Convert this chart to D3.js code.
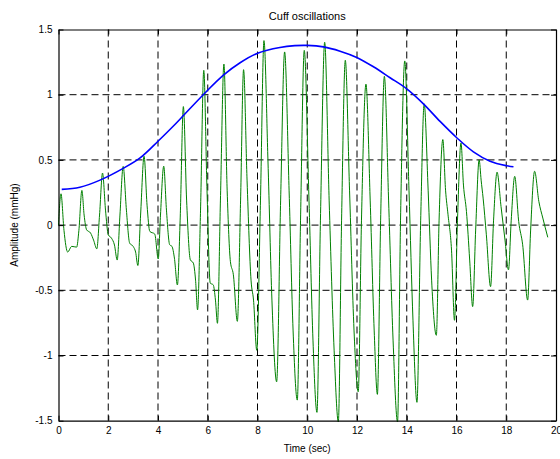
<!DOCTYPE html>
<html>
<head>
<meta charset="utf-8">
<script src="https://cdn.jsdelivr.net/npm/d3@7"></script>
<style>
  html, body { margin: 0; padding: 0; background: #fff; }
  svg { display: block; }
  text { font-family: "Liberation Sans", Arial, Helvetica, sans-serif; fill: #000; }
</style>
</head>
<body>
<svg id="chart" width="560" height="459"></svg>
<script>
// ---- data ----
const title = "Cuff oscillations";
const xLabel = "Time (sec)";
const yLabel = "Amplitude (mmHg)";
const xTicks = [0, 2, 4, 6, 8, 10, 12, 14, 16, 18, 20];
const yTicks = [-1.5, -1, -0.5, 0, 0.5, 1, 1.5];

// oscillation signal (green)
const oscTime = [
  0.00, 0.10, 0.22, 0.37, 0.53, 0.73, 0.82,
  0.94, 1.03, 1.13, 1.29, 1.41, 1.54, 1.65,
  1.77, 1.89, 2.00, 2.13, 2.25, 2.36, 2.47,
  2.60, 2.73, 2.86, 3.00, 3.10, 3.19, 3.30,
  3.44, 3.56, 3.67, 3.87, 4.01, 4.10,
  4.23, 4.34, 4.47, 4.56, 4.66, 4.78, 4.89,
  5.02, 5.15, 5.30, 5.42, 5.51, 5.59, 5.71,
  5.84, 5.97, 6.10, 6.22, 6.31, 6.39, 6.51,
  6.65, 6.78, 6.91, 7.03, 7.19, 7.32,
  7.44, 7.58, 7.74, 7.84, 7.97, 8.12,
  8.26, 8.42, 8.58, 8.77, 8.93,
  9.09, 9.27, 9.43, 9.60, 9.73,
  9.88, 10.07, 10.23, 10.39, 10.53,
  10.70, 10.88, 11.08, 11.25, 11.38,
  11.53, 11.70, 11.88, 12.05, 12.18,
  12.36, 12.53, 12.69, 12.82, 12.95,
  13.10, 13.27, 13.45, 13.63, 13.75,
  13.92, 14.09, 14.25, 14.41, 14.56,
  14.70, 14.86, 15.00, 15.19, 15.30,
  15.45, 15.56, 15.66, 15.80, 15.92, 16.04,
  16.18, 16.28, 16.40, 16.53, 16.65, 16.77,
  16.91, 16.99, 17.07, 17.20, 17.37, 17.49,
  17.63, 17.79, 17.95, 18.09, 18.20,
  18.34, 18.50, 18.66, 18.86, 18.98,
  19.14, 19.31, 19.47, 19.67
];
const oscAmp = [
  0.00, 0.24, -0.04, -0.207, -0.163, -0.169, -0.04,
  0.266, 0.077, -0.036, -0.061, -0.115, -0.182, 0.077,
  0.399, 0.115, -0.074, -0.10, -0.153, -0.268, 0.077,
  0.45, 0.115, -0.138, -0.163, -0.207, -0.31, 0.077,
  0.528, 0.153, -0.048, -0.069, -0.26, 0.077,
  0.452, 0.115, -0.151, -0.163, -0.253, -0.459, 0.038,
  0.909, 0.192, -0.266, -0.291, -0.422, -0.65, 0.115,
  1.187, 0.268, -0.445, -0.458, -0.575, -0.753, 0.192,
  1.235, 0.268, -0.278, -0.381, -0.738, 0.192,
  1.192, 0.345, -0.422, -0.575, -0.96, 0.192,
  1.415, 0.498, -0.575, -1.202, 0.192,
  1.328, 0.268, -0.805, -1.342, 0.038,
  1.34, 0.192, -0.882, -1.436, 0.038,
  1.402, 0.192, -0.959, -1.509, 0.038,
  1.264, 0.268, -0.805, -1.278, 0.038,
  1.081, 0.192, -0.805, -1.298, 0.038,
  1.141, 0.192, -0.882, -1.509, 0.038,
  1.259, 0.268, -0.729, -1.359, 0.038,
  0.93, 0.268, -0.422, -0.845, 0.038,
  0.656, 0.268, 0.079, -0.192, -0.73, 0.038,
  0.63, 0.307, 0.105, -0.268, -0.625, -0.038,
  0.50, 0.345, 0.207, -0.074, -0.472, 0.038,
  0.406, 0.143, -0.115, -0.343, 0.038,
  0.374, 0.028, -0.151, -0.575, -0.038,
  0.413, 0.182, 0.054, -0.094
];

// envelope (blue)
const envTime = [0.13, 0.86, 1.67, 2.60, 3.28, 4.01, 4.62, 5.02, 5.82, 6.63, 7.30, 8.03, 8.90,
                 9.50, 10.00, 10.65, 11.32, 11.99, 12.66, 13.33, 14.00, 14.67, 15.34, 16.01, 16.68, 17.35, 18.02, 18.29];
const envAmp  = [0.274, 0.290, 0.345, 0.435, 0.515, 0.645, 0.760, 0.840, 1.000, 1.150, 1.245, 1.320, 1.362,
                 1.376, 1.378, 1.367, 1.334, 1.286, 1.214, 1.130, 1.045, 0.930, 0.795, 0.670, 0.562, 0.490, 0.455, 0.447];

// ---- drawing ----
const svg = d3.select("#chart");
const pL = 58.5, pR = 556, pT = 29.5, pB = 420.7;

const x = d3.scaleLinear().domain([0, 20]).range([pL, pR]);
const y = d3.scaleLinear().domain([-1.5, 1.5]).range([pB, pT]);

// grid
const grid = svg.append("g");
grid.selectAll("line.gx").data(xTicks.slice(1, -1)).join("line")
  .attr("x1", d => x(d)).attr("x2", d => x(d))
  .attr("y1", pT).attr("y2", pB)
  .attr("stroke", "#000").attr("stroke-width", 1).attr("stroke-dasharray", "7,4");
grid.selectAll("line.gy").data(yTicks.slice(1, -1)).join("line")
  .attr("y1", d => y(d)).attr("y2", d => y(d))
  .attr("x1", pL).attr("x2", pR)
  .attr("stroke", "#000").attr("stroke-width", 1).attr("stroke-dasharray", "7,4");

// green oscillation
const osc = oscTime.map((t, i) => [t, oscAmp[i]]);
svg.append("path")
  .datum(osc)
  .attr("fill", "none")
  .attr("stroke", "#008000")
  .attr("stroke-width", 1)
  .attr("d", d3.line().x(d => x(d[0])).y(d => y(d[1])).curve(d3.curveMonotoneX));

// blue envelope
const env = envTime.map((t, i) => [t, envAmp[i]]);
svg.append("path")
  .datum(env)
  .attr("fill", "none")
  .attr("stroke", "#0000ff")
  .attr("stroke-width", 1.6)
  .attr("d", d3.line().x(d => x(d[0])).y(d => y(d[1])).curve(d3.curveCatmullRom.alpha(0.5)));

// axes (ticks inward, box)
const fmtY = d => (d === 0 ? "0" : String(d));
const axB = svg.append("g").attr("transform", `translate(0,${pB})`)
  .call(d3.axisBottom(x).tickValues(xTicks).tickSizeInner(-5).tickSizeOuter(0).tickPadding(8).tickFormat(d3.format("d")));
const axL = svg.append("g").attr("transform", `translate(${pL},0)`)
  .call(d3.axisLeft(y).tickValues(yTicks).tickSizeInner(-5).tickSizeOuter(0).tickPadding(8).tickFormat(fmtY));
const axT = svg.append("g").attr("transform", `translate(0,${pT})`)
  .call(d3.axisTop(x).tickValues(xTicks).tickSizeInner(-5).tickSizeOuter(0).tickFormat(""));
const axR = svg.append("g").attr("transform", `translate(${pR},0)`)
  .call(d3.axisRight(y).tickValues(yTicks).tickSizeInner(-5).tickSizeOuter(0).tickFormat(""));
[axB, axL, axT, axR].forEach(g => {
  g.select(".domain").attr("stroke", "#000").attr("stroke-width", 1.2);
  g.selectAll(".tick line").attr("stroke", "#000");
  g.selectAll("text").style("font-family", "'Liberation Sans', Arial, sans-serif").style("font-size", "10px").attr("fill", "#000");
});
axB.selectAll("text").attr("dy", "0.5em");
axL.selectAll("text").attr("dx", "2");

// title and labels
svg.append("text").attr("x", (pL + pR) / 2).attr("y", 20)
  .attr("text-anchor", "middle").style("font-size", "11px").text(title);
svg.append("text").attr("x", (pL + pR) / 2).attr("y", 452)
  .attr("text-anchor", "middle").style("font-size", "10px").text(xLabel);
svg.append("text").attr("transform", `translate(18,${(pT + pB) / 2}) rotate(-90)`)
  .attr("text-anchor", "middle").style("font-size", "10px").text(yLabel);
</script>
</body>
</html>
